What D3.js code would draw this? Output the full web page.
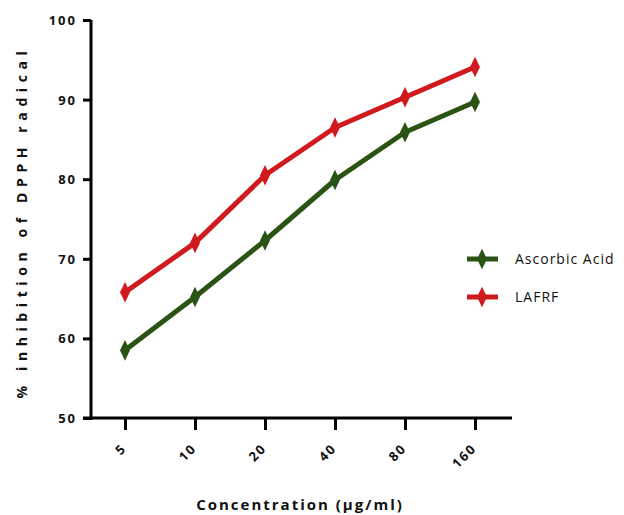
<!DOCTYPE html>
<html><head><meta charset="utf-8">
<script src="https://cdn.jsdelivr.net/npm/d3@7"></script>
<style>body{margin:0;background:#fff}svg{display:block}</style>
</head><body>
<script>
const categories = ["5","10","20","40","80","160"];
const ascorbic = [58.5, 65.2, 72.3, 79.9, 85.9, 89.7];
const lafrf = [65.8, 72.0, 80.5, 86.5, 90.3, 94.1];
const yTicks = [50,60,70,80,90,100];
const seriesNames = ["Ascorbic Acid","LAFRF"];
const colors = ["#2b5414","#d01a1e"];

const W=624,H=515;
const svg=d3.select("body").append("svg").attr("width",W).attr("height",H);
const x=d3.scalePoint().domain(categories).range([125,475]);
const y=d3.scaleLinear().domain([50,100]).range([418,20]);
const font="'Open Sans', sans-serif";

// axes
const ya=svg.append("g").attr("transform","translate(91,0)")
  .call(d3.axisLeft(y).tickValues(yTicks).tickSize(8).tickPadding(6).tickFormat(d3.format("d")));
ya.select(".domain").attr("stroke","#000").attr("stroke-width",3).attr("d","M0,20V420");
ya.selectAll(".tick line").attr("stroke","#000").attr("stroke-width",3);
ya.selectAll(".tick text").attr("font-family",font).attr("font-weight","bold").attr("font-size",13)
  .attr("letter-spacing","2px").attr("fill","#111").attr("dy","0.35em");

const xa=svg.append("g").attr("transform","translate(0,418)")
  .call(d3.axisBottom(x).tickSize(12).tickPadding(0));
xa.select(".domain").attr("stroke","#000").attr("stroke-width",3).attr("d","M83,0H512");
xa.selectAll(".tick line").attr("stroke","#000").attr("stroke-width",3);
xa.selectAll(".tick text").attr("font-family",font).attr("font-weight","bold").attr("font-size",13)
  .attr("letter-spacing","2px").attr("fill","#111")
  .attr("text-anchor","end").attr("dy",0).attr("y",0)
  .attr("transform","translate(2,31) rotate(-45)");

// lines
const line=d3.line().x((d,i)=>x(categories[i])).y(d=>y(d));
const diamond=d3.symbol().type(d3.symbolDiamond).size(85);
[ascorbic,lafrf].forEach((s,k)=>{
  svg.append("path").datum(s).attr("d",line).attr("fill","none")
    .attr("stroke",colors[k]).attr("stroke-width",5).attr("stroke-linejoin","round");
  svg.selectAll(null).data(s).enter().append("path").attr("d",diamond)
    .attr("transform",(d,i)=>`translate(${x(categories[i])},${y(d)}) scale(1,1.2)`)
    .attr("fill",colors[k]);
});

// legend
seriesNames.forEach((n,k)=>{
  const ly=259+k*38;
  svg.append("line").attr("x1",467).attr("x2",498).attr("y1",ly).attr("y2",ly)
    .attr("stroke",colors[k]).attr("stroke-width",5);
  svg.append("path").attr("d",diamond).attr("transform",`translate(482,${ly}) scale(1,1.2)`).attr("fill",colors[k]);
  svg.append("text").attr("x",515).attr("y",ly+5).text(n).attr("font-family",font)
    .attr("font-size",14).attr("letter-spacing","1px").attr("fill","#111");
});

// titles
svg.append("text").attr("transform","translate(27,222) rotate(-90)").attr("text-anchor","middle")
  .attr("font-family",font).attr("font-weight","bold").attr("font-size",14).attr("letter-spacing","5.6px")
  .attr("fill","#111").text("% inhibition of DPPH radical");
svg.append("text").attr("x",300).attr("y",510).attr("text-anchor","middle")
  .attr("font-family",font).attr("font-weight","bold").attr("font-size",15).attr("letter-spacing","2px")
  .attr("fill","#111").text("Concentration (µg/ml)");
</script>
</body></html>
